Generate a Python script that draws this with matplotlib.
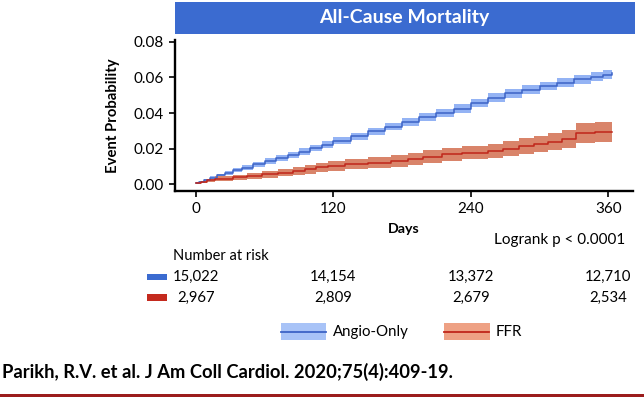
import matplotlib
matplotlib.use('Agg')
import matplotlib.pyplot as plt
from matplotlib.patches import Rectangle
from matplotlib.lines import Line2D
from matplotlib.transforms import blended_transform_factory

plt.rcParams['font.family'] = ['Lato', 'DejaVu Sans']

# Angio-Only curve (cumulative event probability with 95% band)
blue_days = [0, 3, 7, 12, 18, 25, 32, 40, 50, 60, 70, 80, 90, 100, 110, 120, 135, 150, 165, 180,
             195, 210, 225, 240, 255, 270, 285, 300, 315, 330, 345, 355, 363]
blue_est = [0.0005, 0.0012, 0.0024, 0.0036, 0.0050, 0.0064, 0.0078, 0.0093, 0.0112, 0.0130, 0.0148,
            0.0165, 0.0183, 0.0202, 0.0222, 0.0245, 0.0270, 0.0297, 0.0323, 0.0350, 0.0377, 0.0402,
            0.0425, 0.0455, 0.0487, 0.0510, 0.0532, 0.0552, 0.0570, 0.0590, 0.0605, 0.0615, 0.0622]
blue_lo = [0.0002, 0.0007, 0.0017, 0.0027, 0.0040, 0.0053, 0.0066, 0.0080, 0.0098, 0.0115, 0.0132,
           0.0148, 0.0165, 0.0184, 0.0203, 0.0225, 0.0250, 0.0276, 0.0302, 0.0328, 0.0355, 0.0379,
           0.0402, 0.0431, 0.0463, 0.0486, 0.0507, 0.0527, 0.0545, 0.0564, 0.0579, 0.0589, 0.0596]
blue_hi = [0.0008, 0.0017, 0.0031, 0.0045, 0.0060, 0.0075, 0.0090, 0.0106, 0.0126, 0.0145, 0.0164,
           0.0182, 0.0201, 0.0220, 0.0241, 0.0265, 0.0290, 0.0318, 0.0344, 0.0372, 0.0399, 0.0425,
           0.0448, 0.0479, 0.0511, 0.0534, 0.0557, 0.0577, 0.0595, 0.0616, 0.0631, 0.0641, 0.0648]

# FFR curve
red_days = [0, 4, 10, 17, 32, 45, 58, 72, 85, 95, 105, 115, 130, 150, 170, 185, 198, 215, 232, 255,
            268, 282, 295, 307, 320, 332, 348, 363]
red_est = [0.0006, 0.0012, 0.0022, 0.0032, 0.0038, 0.0045, 0.0055, 0.0065, 0.0075, 0.0085, 0.0095,
           0.0105, 0.0112, 0.0120, 0.0130, 0.0140, 0.0155, 0.0168, 0.0178, 0.0188, 0.0200, 0.0215,
           0.0228, 0.0240, 0.0255, 0.0290, 0.0295, 0.0295]
red_lo = [0.0002, 0.0005, 0.0012, 0.0019, 0.0023, 0.0028, 0.0036, 0.0044, 0.0052, 0.0060, 0.0068,
          0.0077, 0.0083, 0.0089, 0.0098, 0.0106, 0.0119, 0.0131, 0.0140, 0.0149, 0.0159, 0.0172,
          0.0183, 0.0193, 0.0205, 0.0234, 0.0238, 0.0238]
red_hi = [0.0010, 0.0019, 0.0032, 0.0045, 0.0053, 0.0062, 0.0074, 0.0086, 0.0098, 0.0110, 0.0122,
          0.0133, 0.0141, 0.0151, 0.0162, 0.0174, 0.0191, 0.0205, 0.0216, 0.0227, 0.0241, 0.0258,
          0.0273, 0.0287, 0.0305, 0.0346, 0.0352, 0.0352]

x_ticks = [0, 120, 240, 360]
y_ticks = [0.00, 0.02, 0.04, 0.06, 0.08]
risk_blue = ['15,022', '14,154', '13,372', '12,710']
risk_red = ['2,967', '2,809', '2,679', '2,534']

BLUE = '#3c63c6'
BLUE_BAND = '#94b3f4'
RED = '#c0261a'
RED_BAND = '#d9846a'
HEADER = '#3b6bd0'

fig = plt.figure(figsize=(6.44, 3.97), dpi=100)
ax = fig.add_axes([0.2717, 0.5189, 0.7112, 0.3803])

ax.fill_between(blue_days, blue_lo, blue_hi, step='post', color=BLUE_BAND, lw=0)
ax.fill_between(red_days, red_lo, red_hi, step='post', color=RED_BAND, lw=0)
ax.plot(blue_days, blue_est, drawstyle='steps-post', color=BLUE, lw=1.1)
ax.plot(red_days, red_est, drawstyle='steps-post', color=RED, lw=1.1)

ax.set_xlim(-18.3, 381.6)
ax.set_ylim(-0.0038, 0.081)
ax.set_xticks(x_ticks)
ax.set_yticks(y_ticks)
ax.set_yticklabels([f'{v:.2f}' for v in y_ticks])
for s in ['top', 'right']:
    ax.spines[s].set_visible(False)
for s in ['left', 'bottom']:
    ax.spines[s].set_linewidth(1.7)
ax.tick_params(length=4, width=1.2, labelsize=11, pad=4, colors='black')
ax.set_ylabel('Event Probability', fontsize=10.7, fontweight='bold')
ax.yaxis.set_label_coords(-0.119, 0.5)

# blue header bar with title
fig.add_artist(Rectangle((0.2717, 0.9136), 0.7143, 0.0821, transform=fig.transFigure,
                         color=HEADER, lw=0))
fig.text(0.628, 0.955, 'All-Cause Mortality', color='white', fontsize=14, fontweight='bold',
         ha='center', va='center')

fig.text(0.6275, 0.4232, 'Days', fontsize=10.3, fontweight='bold', ha='center', va='center')
fig.text(0.9705, 0.3955, 'Logrank p < 0.0001', fontsize=11, ha='right', va='center')

# number at risk table
fig.text(0.269, 0.356, 'Number at risk', fontsize=10.5, ha='left', va='center')
tr = blended_transform_factory(ax.transData, fig.transFigure)
for x, b, r in zip(x_ticks, risk_blue, risk_red):
    ax.text(x, 0.3023, b, transform=tr, fontsize=10.7, ha='center', va='center')
    ax.text(x, 0.2501, r, transform=tr, fontsize=10.7, ha='center', va='center')
fig.add_artist(Rectangle((0.2287, 0.2942), 0.0301, 0.0166, transform=fig.transFigure,
                         color=HEADER, lw=0))
fig.add_artist(Rectangle((0.2287, 0.2418), 0.0301, 0.0166, transform=fig.transFigure,
                         color='#c42a1e', lw=0))

# legend
for x0, band, line, lab in [(280.7, '#a8c3f7', BLUE, 'Angio-Only'), (444, '#eea184', RED, 'FFR')]:
    fig.add_artist(Rectangle((x0 / 644, 0.1435), 45.5 / 644, 0.042, transform=fig.transFigure,
                             color=band, lw=0))
    fig.add_artist(Line2D([x0 / 644, (x0 + 45.5) / 644], [0.1645, 0.1645], transform=fig.transFigure,
                          color=line, lw=1.3))
    fig.text((x0 + 52) / 644, 0.1645, lab, fontsize=10.8, ha='left', va='center')

fig.text(0.003, 0.0637, 'Parikh, R.V. et al. J Am Coll Cardiol. 2020;75(4):409-19.', fontsize=13.2,
         fontweight='bold', ha='left', va='center')
fig.add_artist(Rectangle((0, 0), 1, 0.0068, transform=fig.transFigure, color='#9b1c1c', lw=0))

fig.savefig('out.png', dpi=100)
